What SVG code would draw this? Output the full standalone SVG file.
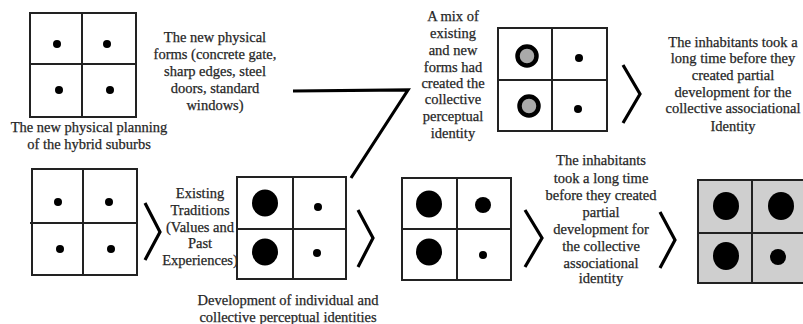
<svg xmlns="http://www.w3.org/2000/svg" width="803" height="324" viewBox="0 0 803 324">
  <style>
    .grid { fill: #fff; stroke: #222; stroke-width: 2; }
    .grid.shaded { fill: #cfcfcf; }
    .div { stroke: #222; stroke-width: 2; }
    .dot { fill: #000; }
    .ring { fill: #a9a9a9; stroke: #000; stroke-width: 4.5; }
    .chev { fill: none; stroke: #000; stroke-width: 3.2; stroke-linejoin: miter; }
    .lbl { font-size: 14.5px; fill: #262626; stroke: #262626; stroke-width: 0.25; text-anchor: middle; }
  </style>

  <g font-family="'Liberation Serif', 'Times New Roman', serif">
  <!-- top-left: new physical planning -->
  <g id="planning">
    <rect class="grid" x="30" y="13" width="106" height="104"/>
    <line class="div" x1="82" y1="13" x2="82" y2="117"/>
    <line class="div" x1="30" y1="64" x2="136" y2="64"/>
    <circle class="dot" cx="57" cy="44" r="4"/>
    <circle class="dot" cx="107" cy="44" r="4"/>
    <circle class="dot" cx="59" cy="90" r="4"/>
    <circle class="dot" cx="110" cy="90" r="4"/>
    <text class="lbl" x="89" y="132">The new  physical planning</text>
    <text class="lbl" x="89" y="149">of the hybrid suburbs</text>
  </g>

  <g id="forms-label">
    <text class="lbl" x="215" y="42">The new physical</text>
    <text class="lbl" x="215" y="59">forms (concrete gate,</text>
    <text class="lbl" x="215" y="76">sharp edges, steel</text>
    <text class="lbl" x="215" y="93">doors, standard</text>
    <text class="lbl" x="215" y="110">windows)</text>
  </g>

  <!-- top-middle: mix of forms -->
  <g id="mix">
    <text class="lbl" x="453" y="21">A mix of</text>
    <text class="lbl" x="453" y="38">existing</text>
    <text class="lbl" x="453" y="55">and new</text>
    <text class="lbl" x="453" y="72">forms had</text>
    <text class="lbl" x="453" y="88">created the</text>
    <text class="lbl" x="453" y="104">collective</text>
    <text class="lbl" x="453" y="121">perceptual</text>
    <text class="lbl" x="453" y="138">identity</text>
    <rect class="grid" x="498" y="28" width="109" height="103"/>
    <line class="div" x1="552" y1="28" x2="552" y2="131"/>
    <line class="div" x1="498" y1="80" x2="607" y2="80"/>
    <circle class="ring" cx="527" cy="56" r="9.5"/>
    <circle class="ring" cx="529" cy="106" r="9.5"/>
    <circle class="dot" cx="579" cy="58" r="4"/>
    <circle class="dot" cx="578" cy="109" r="4"/>
  </g>

  <g id="associational-top">
    <text class="lbl" x="733" y="47">The inhabitants took a</text>
    <text class="lbl" x="733" y="63">long time before they</text>
    <text class="lbl" x="733" y="80">created partial</text>
    <text class="lbl" x="733" y="97">development for the</text>
    <text class="lbl" x="733" y="113">collective associational</text>
    <text class="lbl" x="733" y="131">Identity</text>
  </g>

  <!-- bottom row -->
  <g id="suburb-grid">
    <rect class="grid" x="32" y="169" width="105" height="106"/>
    <line class="div" x1="83" y1="169" x2="83" y2="275"/>
    <line class="div" x1="30" y1="223" x2="137" y2="223"/>
    <circle class="dot" cx="58" cy="202" r="4"/>
    <circle class="dot" cx="109" cy="202" r="4"/>
    <circle class="dot" cx="60" cy="249" r="4"/>
    <circle class="dot" cx="111" cy="249" r="4"/>
  </g>

  <g id="traditions">
    <text class="lbl" x="200" y="198">Existing</text>
    <text class="lbl" x="200" y="215">Traditions</text>
    <text class="lbl" x="200" y="232">(Values and</text>
    <text class="lbl" x="200" y="248">Past</text>
    <text class="lbl" x="200" y="265">Experiences)</text>
  </g>

  <g id="perceptual">
    <rect class="grid" x="237" y="177" width="109" height="102"/>
    <line class="div" x1="293" y1="177" x2="293" y2="279"/>
    <line class="div" x1="237" y1="229" x2="346" y2="229"/>
    <ellipse class="dot" cx="265" cy="203" rx="13" ry="13.5"/>
    <ellipse class="dot" cx="265" cy="252" rx="13" ry="13.5"/>
    <circle class="dot" cx="318" cy="207" r="4"/>
    <circle class="dot" cx="317" cy="253" r="4"/>
    <text class="lbl" x="288" y="305">Development of individual and</text>
    <text class="lbl" x="288" y="322">collective perceptual identities</text>
  </g>

  <g id="partial">
    <rect class="grid" x="402" y="178" width="109" height="102"/>
    <line class="div" x1="457" y1="178" x2="457" y2="280"/>
    <line class="div" x1="402" y1="229" x2="511" y2="229"/>
    <ellipse class="dot" cx="429" cy="204" rx="13" ry="13.5"/>
    <ellipse class="dot" cx="429" cy="252" rx="13" ry="13.5"/>
    <circle class="dot" cx="483" cy="205" r="8"/>
    <circle class="dot" cx="483" cy="255" r="4"/>
  </g>

  <g id="associational-bottom">
    <text class="lbl" x="601" y="165">The inhabitants</text>
    <text class="lbl" x="601" y="183">took a long time</text>
    <text class="lbl" x="601" y="200">before they created</text>
    <text class="lbl" x="601" y="217">partial</text>
    <text class="lbl" x="601" y="234">development for</text>
    <text class="lbl" x="601" y="251">the collective</text>
    <text class="lbl" x="601" y="268">associational</text>
    <text class="lbl" x="601" y="283">identity</text>
  </g>

  <g id="collective">
    <rect class="grid shaded" x="698" y="180" width="110" height="103"/>
    <line class="div" x1="752" y1="180" x2="752" y2="283"/>
    <line class="div" x1="698" y1="233" x2="808" y2="233"/>
    <ellipse class="dot" cx="726" cy="206" rx="13" ry="14"/>
    <ellipse class="dot" cx="781" cy="206" rx="13" ry="14"/>
    <ellipse class="dot" cx="726" cy="256" rx="13" ry="14"/>
    <circle class="dot" cx="778" cy="257" r="8"/>
  </g>
  </g>

  <!-- connectors -->
  <g id="connectors">
    <polyline class="chev" points="293,91 408,90 351,178"/>
    <polyline class="chev" points="623,65 640,94 623,123"/>
    <polyline class="chev" points="145,203 160,232 145,260"/>
    <polyline class="chev" points="358,210 373,238 358,267"/>
    <polyline class="chev" points="525,210 542,238 525,267"/>
    <polyline class="chev" points="660,212 675,240 660,268"/>
  </g>
</svg>
